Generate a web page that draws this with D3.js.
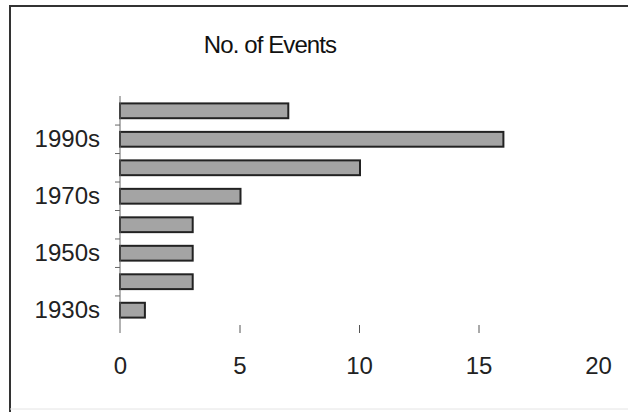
<!DOCTYPE html>
<html>
<head>
<meta charset="utf-8">
<script src="https://cdn.jsdelivr.net/npm/d3@7"></script>
<style>
  body { margin: 0; background: #fff; }
  svg { display: block; font-family: "Liberation Sans", Arial, sans-serif; }
</style>
</head>
<body>
<svg width="628" height="412"></svg>
<script>
var decades = ["2000s", "1990s", "1980s", "1970s", "1960s", "1950s", "1940s", "1930s"];
var events = [7, 16, 10, 5, 3, 3, 3, 1];
var shownLabels = ["1990s", "1970s", "1950s", "1930s"];
var xTicks = [0, 5, 10, 15, 20];

var svg = d3.select("svg");

// chart frame (cut off at the right / bottom like the scan)
svg.append("rect")
  .attr("x", 10).attr("y", 6)
  .attr("width", 640).attr("height", 420)
  .attr("fill", "none")
  .attr("stroke", "#333")
  .attr("stroke-width", 2);
svg.append("line")
  .attr("x1", 10).attr("x2", 628)
  .attr("y1", 409).attr("y2", 409)
  .attr("stroke", "#e4e4e4");

svg.append("text")
  .attr("x", 270).attr("y", 53)
  .attr("text-anchor", "middle")
  .attr("font-size", 24)
  .attr("letter-spacing", -0.9)
  .attr("fill", "#111")
  .text("No. of Events");

var x = d3.scaleLinear().domain([0, 20]).range([120, 598]);
var y = d3.scaleBand().domain(decades).range([96, 325]).paddingInner(0.48).paddingOuter(0.26);

// bars
svg.selectAll("rect.bar")
  .data(decades)
  .enter().append("rect")
    .attr("class", "bar")
    .attr("x", x(0))
    .attr("y", function(d) { return y(d); })
    .attr("width", function(d, i) { return x(events[i]) - x(0) + 1; })
    .attr("height", y.bandwidth())
    .attr("fill", "#a4a4a4")
    .attr("stroke", "#222")
    .attr("stroke-width", 2);

// y axis: labels on every other category
var yAxis = svg.append("g")
  .attr("transform", "translate(" + x(0) + ",0)")
  .call(d3.axisLeft(y).tickValues(shownLabels).tickSize(0).tickPadding(20));
yAxis.select(".domain").remove();
yAxis.selectAll("text").attr("font-size", 24).attr("fill", "#222");

svg.append("line")
  .attr("x1", x(0)).attr("x2", x(0))
  .attr("y1", 96).attr("y2", 333)
  .attr("stroke", "#666").attr("stroke-width", 1);

// category boundary ticks
var gap = y.step() - y.bandwidth();
svg.selectAll("line.ytick")
  .data(decades.slice(0, -1))
  .enter().append("line")
    .attr("class", "ytick")
    .attr("x1", x(0) - 5).attr("x2", x(0))
    .attr("y1", function(d) { return y(d) + y.bandwidth() + gap / 2; })
    .attr("y2", function(d) { return y(d) + y.bandwidth() + gap / 2; })
    .attr("stroke", "#666");

// x axis
var xAxis = svg.append("g")
  .attr("transform", "translate(0,325)")
  .call(d3.axisBottom(x).tickValues(xTicks).tickSize(8).tickPadding(24));
xAxis.select(".domain").remove();
xAxis.selectAll(".tick line")
  .attr("stroke", "#555")
  .attr("opacity", function(d) { return d === 0 || d === 20 ? 0 : 1; });
xAxis.selectAll("text").attr("font-size", 24).attr("fill", "#222");
</script>
</body>
</html>
